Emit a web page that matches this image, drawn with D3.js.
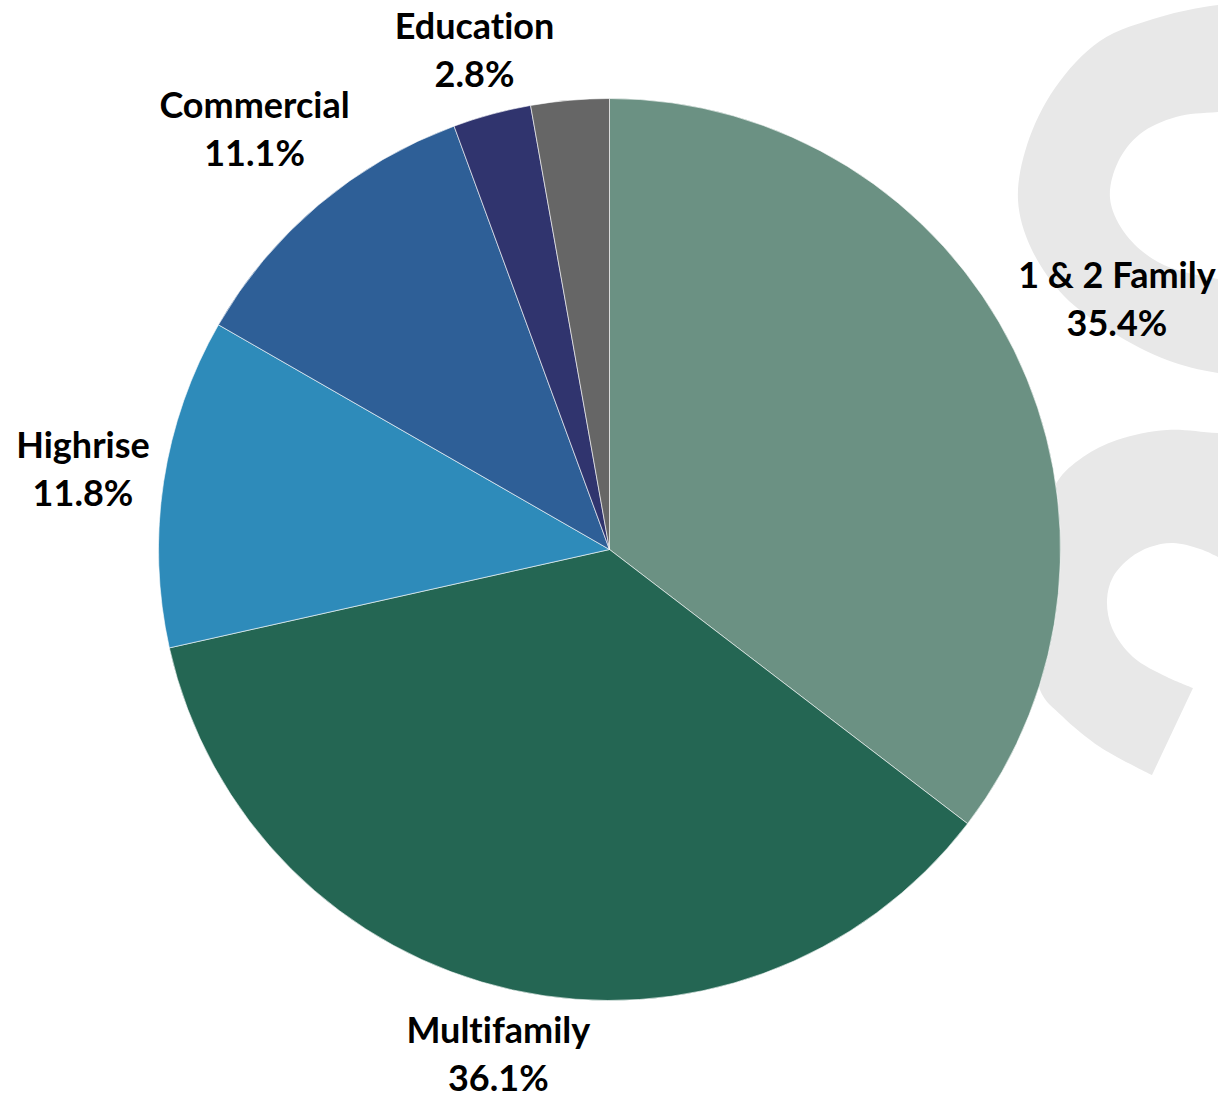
<!DOCTYPE html>
<html>
<head>
<meta charset="utf-8">
<script src="https://cdn.jsdelivr.net/npm/d3@7"></script>
<style>
  html, body { margin: 0; padding: 0; background: #ffffff; }
  svg { display: block; }
  text { font-family: Lato, "Noto Sans", sans-serif; font-weight: 700; fill: #000;
         font-variant-ligatures: none; font-feature-settings: "liga" 0, "clig" 0; }
</style>
</head>
<body>
<svg id="chart" width="1218" height="1097"></svg>
<script>
// ---- data ----
const categories = ["1 & 2 Family", "Multifamily", "Highrise", "Commercial", "Education", "Other"];
const values = [35.4, 36.1, 11.8, 11.1, 2.8, 2.8];
const showLabel = [true, true, true, true, true, false];
const colors = ["#6b9183", "#246653", "#2e8bba", "#2e5f97", "#30346e", "#666666"];

// ---- layout ----
const W = 1218, H = 1097;
const cx = 609.5, cy = 549.5, R = 451;
const fontSize = 36, lineGap = 48, labelPad = 10, capH = 0.72;

const svg = d3.select("#chart");

// ---- background watermark (decorative logo shapes) ----
const wm = svg.append("g").attr("fill", "#e8e8e8");
const curve = d3.line().curve(d3.curveCatmullRom.alpha(0.5));
const upperOuter = [[1300,0],[1218,5],[1160,17],[1100,41],[1055,88],[1027,145],[1018,200],[1031,248],[1064,296],[1112,332],[1167,360],[1218,373],[1300,380]];
const upperInner = [[1300,108],[1218,112],[1176,117],[1140,134],[1118,162],[1110,198],[1124,232],[1158,262],[1218,279],[1300,285]];
wm.append("path")
  .attr("fill-rule", "evenodd")
  .attr("d", curve(upperOuter) + "Z" + curve(upperInner) + "Z");
const lowerOuter = [[1300,436],[1218,433],[1167,430],[1117,440],[1083,457],[1057,482],[1042,530],[1036,600],[1040,690],[1062,716],[1100,747],[1152,775]];
const lowerInner = [[1193,688],[1167,677],[1133,657],[1112,628],[1107,600],[1113,577],[1130,558],[1150,547],[1173,543],[1200,549],[1218,557],[1300,600]];
wm.append("path")
  .attr("d", curve(lowerOuter) + curve(lowerInner).replace(/^M/, "L") + "Z");

// ---- pie ----
const data = categories.map((c, i) => ({ name: c, value: values[i], color: colors[i], show: showLabel[i] }));
const pie = d3.pie().sort(null).value(d => d.value);
const arcs = pie(data);
const arc = d3.arc().innerRadius(0).outerRadius(R);

const g = svg.append("g").attr("transform", `translate(${cx},${cy})`);
g.selectAll("path.slice")
  .data(arcs)
  .join("path")
  .attr("class", "slice")
  .attr("d", arc)
  .attr("fill", d => d.data.color)
  .attr("stroke", "#ffffff")
  .attr("stroke-width", 0.6);

// ---- labels (outside end) ----
const fmt = d3.format(".1f");
const lg = g.selectAll("g.label")
  .data(arcs.filter(d => d.data.show))
  .join("g")
  .attr("class", "label");

lg.each(function(d) {
  const sel = d3.select(this);
  const t = sel.append("text").attr("text-anchor", "middle").attr("font-size", fontSize);
  t.append("tspan").attr("x", 0).attr("y", 0).text(d.data.name);
  t.append("tspan").attr("x", 0).attr("y", lineGap).text(fmt(d.data.value) + "%");
  const bb = t.node().getBBox();
  const mid = (d.startAngle + d.endAngle) / 2;
  const ux = Math.sin(mid), uy = -Math.cos(mid);
  const inkTop = -capH * fontSize, inkBottom = lineGap;
  const hw = bb.width / 2, hh = (inkBottom - inkTop) / 2;
  const dist = R + labelPad + hw * Math.abs(ux) + hh * Math.abs(uy);
  const bx = ux * dist, by = uy * dist;
  const offY = -(inkTop + inkBottom) / 2;
  sel.attr("transform", `translate(${bx},${by + offY})`);
});
</script>
</body>
</html>
